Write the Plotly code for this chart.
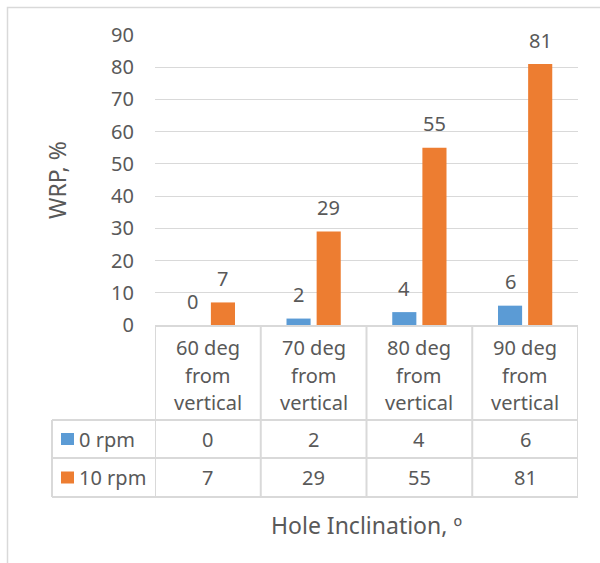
import plotly.graph_objects as go

# ---- data -------------------------------------------------------------
categories = [
    "60 deg<br>from<br>vertical",
    "70 deg<br>from<br>vertical",
    "80 deg<br>from<br>vertical",
    "90 deg<br>from<br>vertical",
]
series_names = ["0 rpm", "10 rpm"]
rpm_0 = [0, 2, 4, 6]
rpm_10 = [7, 29, 55, 81]
y_tick_values = [0, 10, 20, 30, 40, 50, 60, 70, 80, 90]

series_values = [rpm_0, rpm_10]
series_colors = ["#5B9BD5", "#ED7D31"]

# ---- layout constants -------------------------------------------------
W, H = 600, 563
L, R, T, B = 155, 22, 35, 238
PW, PH = W - L - R, H - T - B
TEXT = "#595959"
GRID = "#D9D9D9"
FONT = "Noto Sans"
FS = 20
TITLE_FS = 23
BARGAP = 0.43
GROUPGAP = 0.2


def fx(px):
    """pixel column -> paper x"""
    return (px - L) / PW


def fy(py):
    """pixel row -> paper y"""
    return (H - B - py) / PH


def label(x, y, text, xref="paper", yref="paper", size=FS, **kw):
    d = dict(x=x, y=y, xref=xref, yref=yref, text=text, showarrow=False,
             xanchor="center", yanchor="middle",
             font=dict(family=FONT, size=size, color=TEXT))
    d.update(kw)
    return d


fig = go.Figure()
for name, vals, col in zip(series_names, series_values, series_colors):
    fig.add_trace(go.Bar(x=categories, y=vals, name=name,
                         marker=dict(color=col, line=dict(width=0)),
                         showlegend=False))

annotations = []
shapes = []

# value labels above each bar
n_series = len(series_values)
slot = (1 - BARGAP) / n_series
for s, vals in enumerate(series_values):
    off = -(1 - BARGAP) / 2 + slot * (s + 0.5)
    for i, v in enumerate(vals):
        annotations.append(label(i + off, v, str(v), xref="x", yref="y", yshift=24))

# data table: category header row
line_rows = [347, 375, 403]
for i, cat in enumerate(categories):
    for line, py in zip(cat.split("<br>"), line_rows):
        annotations.append(label(i, fy(py), line, xref="x"))

# data table: one row per series
row_edges = [420, 458, 497]
for s, (name, vals, col) in enumerate(zip(series_names, series_values, series_colors)):
    top, bot = row_edges[s], row_edges[s + 1]
    mid = (top + bot) / 2
    for i, v in enumerate(vals):
        annotations.append(label(i, fy(mid), str(v), xref="x"))
    shapes.append(dict(type="rect", xref="paper", yref="paper",
                       x0=fx(61), x1=fx(74), y0=fy(mid + 6), y1=fy(mid - 6),
                       fillcolor=col, line=dict(width=0)))
    annotations.append(label(fx(77), fy(mid), name, xanchor="left"))

# table grid lines
tline = dict(color=GRID, width=2)
for py in row_edges:
    shapes.append(dict(type="line", xref="paper", yref="paper",
                       x0=fx(52), x1=1, y0=fy(py), y1=fy(py), line=tline))
for k in range(len(categories) + 1):
    shapes.append(dict(type="line", xref="x", yref="paper",
                       x0=k - 0.5, x1=k - 0.5, y0=0, y1=fy(row_edges[-1]),
                       line=tline))
shapes.append(dict(type="line", xref="paper", yref="paper",
                   x0=fx(52), x1=fx(52), y0=fy(row_edges[0]), y1=fy(row_edges[-1]),
                   line=tline))

# chart frame
shapes.append(dict(type="rect", xref="paper", yref="paper",
                   x0=fx(7.5), x1=fx(620), y0=fy(600), y1=fy(7.5),
                   line=dict(color=GRID, width=1.5), layer="below"))

# axis titles
annotations.append(label(fx(57), 0.5, "WRP, %", size=TITLE_FS, textangle=-90))
annotations.append(label(0.5, fy(525), "Hole Inclination, º", size=TITLE_FS))

fig.update_layout(
    width=W, height=H,
    margin=dict(l=L, r=R, t=T, b=B),
    paper_bgcolor="white", plot_bgcolor="white",
    barmode="group", bargap=BARGAP, bargroupgap=GROUPGAP,
    annotations=annotations, shapes=shapes,
    font=dict(family=FONT, size=FS, color=TEXT),
)
fig.update_xaxes(type="category", showticklabels=False, showgrid=False,
                 showline=True, linecolor=GRID, linewidth=2,
                 range=[-0.5, len(categories) - 0.5])
fig.update_yaxes(range=[0, 90], tickvals=y_tick_values, showgrid=True,
                 gridcolor=GRID, gridwidth=1, zeroline=False,
                 ticklabelstandoff=20,
                 tickfont=dict(family=FONT, size=FS, color=TEXT))

fig.write_html("out.html")
